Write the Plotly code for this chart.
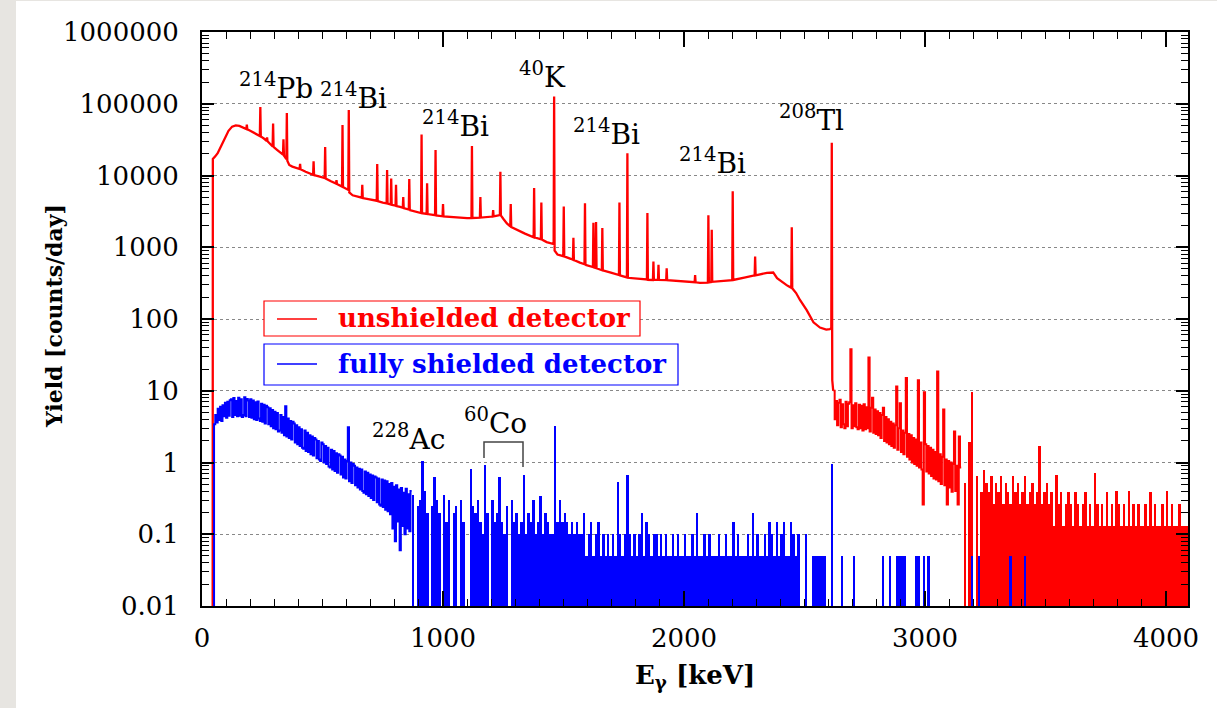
import plotly.graph_objects as go

# ---------------- data ----------------
# Unshielded detector, smooth part with peaks: energy [keV] and yield [counts/day]
RED_E = [44, 45, 55, 65, 80, 95, 110, 125, 140, 155, 170, 184, 186, 188, 200, 215, 230, 240, 242, 244,
         258, 268, 270, 272, 285, 293, 295, 297, 310, 325, 336, 338, 340, 350, 352, 354, 362, 375, 390, 405,
         407, 409, 430, 450, 461, 463, 465, 485, 509, 511, 513, 535, 556, 558, 560, 581, 583, 585, 600, 607,
         609, 611, 625, 650, 663, 665, 667, 690, 725, 727, 729, 750, 766, 768, 770, 783, 785, 787, 803, 805,
         807, 822, 833, 835, 837, 858, 860, 862, 885, 909, 911, 913, 932, 934, 936, 967, 969, 971, 998, 1000,
         1002, 1050, 1100, 1118, 1120, 1122, 1153, 1155, 1157, 1206, 1208, 1210, 1236, 1238, 1240, 1250, 1265, 1279, 1281, 1283,
         1310, 1340, 1376, 1378, 1380, 1406, 1408, 1410, 1430, 1450, 1459, 1461, 1463, 1475, 1499, 1501, 1503, 1530, 1539, 1541,
         1543, 1568, 1587, 1589, 1591, 1622, 1624, 1626, 1633, 1635, 1637, 1651, 1659, 1661, 1663, 1700, 1730, 1732, 1734, 1763,
         1765, 1767, 1800, 1846, 1848, 1850, 1871, 1873, 1875, 1892, 1894, 1896, 1926, 1928, 1930, 2000, 2044, 2046, 2048, 2066,
         2099, 2101, 2103, 2113, 2115, 2117, 2150, 2200, 2202, 2204, 2250, 2293, 2295, 2297, 2344, 2370, 2386, 2410, 2430, 2445,
         2447, 2449, 2465, 2481, 2509, 2537, 2564, 2590, 2605, 2611, 2613, 2615, 2619]
RED_Y = [0, 17000, 18500, 20500, 26000, 34000, 42000, 48000, 50000, 49000, 46500, 44500, 51000, 44000, 42000, 39500, 37000, 35500, 90000, 35000,
         32500, 30500, 34000, 30000, 27000, 25500, 53000, 25000, 23000, 21000, 19500, 32000, 19000, 17000, 74000, 16000, 14000, 13300, 12800, 12300,
         14500, 12200, 11300, 10600, 10200, 15800, 10100, 9700, 9200, 25000, 9100, 8300, 7700, 8600, 7600, 7000, 50600, 6900, 6500, 6300,
         82000, 5800, 5300, 5050, 4900, 7400, 4850, 4700, 4450, 14500, 4400, 4200, 4100, 11900, 4050, 3950, 9100, 3900, 3800, 7400,
         3750, 3650, 3550, 5000, 3500, 3350, 8900, 3300, 3150, 3000, 37400, 2980, 2920, 7800, 2900, 2800, 22700, 2780, 2700, 4000,
         2690, 2600, 2550, 2560, 25800, 2560, 2580, 5000, 2590, 2680, 3300, 2690, 2800, 11300, 2780, 2500, 2150, 1950, 4000, 1920,
         1720, 1550, 1380, 6700, 1370, 1290, 4200, 1280, 1180, 1130, 1110, 126000, 900, 790, 750, 3700, 745, 690, 670, 1350,
         665, 610, 580, 4100, 570, 530, 2200, 525, 515, 2250, 510, 490, 480, 1850, 475, 440, 410, 4200, 405, 380,
         20400, 375, 365, 355, 3000, 352, 350, 630, 350, 350, 570, 350, 348, 510, 347, 335, 325, 410, 325, 318,
         322, 2800, 324, 328, 1750, 330, 338, 348, 6050, 350, 378, 405, 740, 407, 440, 445, 370, 320, 290, 272,
         1900, 268, 230, 184, 133, 90, 76, 71, 72, 75, 28600, 14, 10]

# Unshielded detector, high-energy tail (5 keV bins starting at 2620 keV)
RED_TAIL_START, RED_TAIL_BIN = 2620, 5
RED_TAIL_Y = [10,
              4.0, 7.2, 3.3, 6.8, 7.5, 3.1, 6.5, 3.4, 3.0, 7.0,
              3.2, 6.6, 6.9, 38, 3.0, 6.3, 3.2, 6.7, 3.1, 2.9,
              6.4, 3.0, 6.2, 2.8, 6.5, 2.9, 5.9, 3.0, 29, 2.7,
              5.8, 8.0, 2.6, 5.5, 2.5, 5.2, 2.4, 4.9, 2.2, 4.6,
              5.8, 2.0, 4.3, 1.9, 4.0, 1.8, 3.7, 1.7, 3.5, 1.6,
              3.3, 11.5, 1.5, 3.0, 6.7, 1.4, 2.8, 1.3, 2.6, 15,
              1.2, 2.5, 1.1, 2.4, 1.0, 2.2, 0.95, 2.1, 0.9, 14,
              0.85, 1.9, 0.8, 0.26, 9.5, 1.8, 0.75, 1.7, 0.7, 1.6,
              0.65, 1.5, 0.6, 1.4, 0.58, 18.5, 0.55, 1.3, 0.5, 1.2,
              5.5, 0.48, 1.1, 0.26, 1.05, 0.45, 1.0, 0.39, 0.95, 2.7,
              0.4, 0.9, 0.26, 2.3, 0.85]

# Unshielded detector, low-count region (10 keV bins starting at 3150 keV)
RED_LOW_START, RED_LOW_BIN = 3150, 10
RED_LOW_Y = [0.0, 0.52, 0.0, 1.95, 9.5, 0.0, 0.65, 0.0, 0.39, 0.78,
             0.52, 0.39, 0.65, 0.26, 0.52, 0.39, 0.65, 0.26, 0.52, 0.39,
             0.26, 0.65, 0.39, 0.52, 0.26, 0.39, 0.65, 0.26, 0.39, 0.52,
             0.26, 0.39, 1.7, 0.26, 0.39, 0.52, 0.26, 0.39, 0.13, 0.66,
             0.26, 0.39, 0.13, 0.26, 0.39, 0.26, 0.13, 0.39, 0.26, 0.13,
             0.26, 0.39, 0.13, 0.26, 0.13, 0.72, 0.26, 0.13, 0.26, 0.13,
             0.39, 0.13, 0.26, 0.13, 0.4, 0.26, 0.13, 0.26, 0.13, 0.4,
             0.13, 0.26, 0.13, 0.26, 0.13, 0.13, 0.26, 0.13, 0.39, 0.13,
             0.26, 0.13, 0.13, 0.26, 0.13, 0.4, 0.13, 0.26, 0.13, 0.13,
             0.26, 0.13, 0.13, 0.13]

# Fully shielded detector, continuum (5 keV bins starting at 45 keV)
BLUE_START, BLUE_BIN = 45, 5
BLUE_Y = [0,
          3.4, 4.6, 3.6, 5.6, 3.9, 6.0, 3.8, 6.3, 4.4, 6.8,
          4.2, 7.0, 4.5, 7.4, 7.6, 4.3, 7.9, 4.6, 7.2, 4.4,
          8.0, 4.5, 7.6, 4.3, 4.6, 8.1, 4.4, 7.7, 7.3, 4.3,
          7.6, 4.2, 7.3, 4.0, 6.9, 3.9, 7.1, 4.1, 3.8, 6.6,
          3.7, 6.4, 3.5, 6.2, 5.9, 3.4, 5.7, 3.2, 5.4, 3.0,
          5.1, 2.9, 4.9, 2.7, 2.8, 4.6, 2.6, 4.3, 2.4, 6.1,
          2.3, 4.1, 2.2, 3.8, 2.1, 3.7, 3.5, 1.9, 3.3, 1.8,
          3.1, 1.7, 2.9, 1.6, 1.55, 2.8, 1.45, 2.6, 1.4, 2.4,
          1.3, 2.3, 1.25, 2.2, 2.1, 1.15, 2.0, 1.1, 1.05, 1.9,
          1.8, 1.0, 1.7, 0.95, 1.6, 0.88, 0.85, 1.5, 0.8, 1.45,
          0.76, 1.35, 0.72, 1.3, 1.25, 0.68, 1.2, 0.62, 1.1, 0.6,
          1.05, 3.1, 0.55, 1.0, 0.52, 0.95, 0.9, 0.48, 0.85, 0.45,
          0.82, 0.42, 0.8, 0.4, 0.38, 0.75, 0.36, 0.72, 0.34, 0.68,
          0.32, 0.66, 0.3, 0.64, 0.62, 0.28, 0.6, 0.26, 0.25, 0.58,
          0.24, 0.56, 0.22, 0.55, 0.21, 0.5, 0.19, 0.52, 0.12, 0.46,
          0.08, 0.48, 0.15, 0.42, 0.06, 0.44, 0.13, 0.38, 0.1, 0.43,
          0.12, 0.36, 0.11, 0.4]

# Fully shielded detector, low-count region (10 keV bins starting at 870 keV)
BLUE_LOW_START, BLUE_LOW_BIN = 870, 10
BLUE_LOW_Y = [0.35, 0.0, 0.25, 0.3, 1.05, 0.4, 0.2, 0.0, 0.25, 0.62,
              0.3, 0.2, 0.0, 0.35, 0.15, 0.3, 0.0, 0.2, 0.25, 0.0,
              0.3, 0.15, 0.0, 0.0, 0.82, 0.25, 0.2, 0.3, 0.15, 0.1,
              0.91, 0.2, 0.0, 0.3, 0.15, 0.2, 0.62, 0.15, 0.1, 0.25,
              0.0, 0.3, 0.15, 0.2, 0.1, 0.15, 0.68, 0.1, 0.2, 0.15,
              0.3, 0.1, 0.15, 0.34, 0.1, 0.2, 0.15, 0.1, 0.1, 3.2,
              0.15, 0.3, 0.15, 0.2, 0.15, 0.1, 0.15, 0.1, 0.15, 0.1,
              0.1, 0.2, 0.05, 0.1, 0.15, 0.05, 0.1, 0.15, 0.05, 0.1,
              0.05, 0.1, 0.05, 0.1, 0.05, 0.54, 0.1, 0.05, 0.1, 0.68,
              0.1, 0.05, 0.1, 0.05, 0.1, 0.2, 0.05, 0.15, 0.1, 0.05,
              0.1, 0.1, 0.05, 0.1, 0.05, 0.1, 0.05, 0.05, 0.1, 0.05,
              0.1, 0.05, 0.05, 0.1, 0.05, 0.05, 0.1, 0.05, 0.2, 0.05,
              0.05, 0.1, 0.05, 0.1, 0.05, 0.05, 0.05, 0.1, 0.05, 0.05,
              0.1, 0.05, 0.05, 0.15, 0.05, 0.1, 0.05, 0.05, 0.05, 0.1,
              0.05, 0.2, 0.05, 0.1, 0.05, 0.05, 0.1, 0.05, 0.15, 0.1,
              0.05, 0.15, 0.05, 0.1, 0.15, 0.05, 0.05, 0.15, 0.1, 0.05,
              0.1, 0.0, 0.0, 0.1, 0.0, 0.0, 0.05, 0.05, 0.05, 0.05,
              0.05, 0.05, 0.0, 0.0, 0.94, 0.0, 0.0, 0.0, 0.05, 0.0,
              0.0, 0.0, 0.0, 0.05, 0.0, 0.0, 0.0, 0.0, 0.0, 0.0,
              0.0, 0.0, 0.0, 0.0, 0.0, 0.05, 0.0, 0.0, 0.05, 0.0,
              0.0, 0.05, 0.05, 0.05, 0.05, 0.0, 0.0, 0.0, 0.0, 0.05,
              0.05, 0.0, 0.05, 0.0, 0.05, 0.0, 0.0, 0.0, 0.0, 0.0,
              0.0, 0.0, 0.0, 0.0, 0.0, 0.0, 0.0, 0.0, 0.0, 0.0,
              0.0, 0.0, 0.05, 0.0, 0.0, 0.05, 0.0, 0.0, 0.0, 0.0,
              0.0, 0.0, 0.0, 0.0, 0.0, 0.0, 0.0, 0.0, 0.05, 0.0,
              0.0, 0.0, 0.0, 0.0, 0.05]

Y_TICKS = [0.01, 0.1, 1, 10, 100, 1000, 10000, 100000, 1000000]
Y_TICK_TEXT = ["0.01", "0.1", "1", "10", "100", "1000", "10000", "100000", "1000000"]

PEAK_LABELS = ["<sup>214</sup>Pb", "<sup>214</sup>Bi", "<sup>214</sup>Bi", "<sup>40</sup>K", "<sup>214</sup>Bi",
               "<sup>214</sup>Bi", "<sup>208</sup>Tl", "<sup>228</sup>Ac", "<sup>60</sup>Co"]
LEGEND_NAMES = ["unshielded detector", "fully shielded detector"]

RED = "#ff0000"
BLUE = "#0000ff"
INK = "#000000"

# ---------------- geometry helpers ----------------
W, H = 1217, 708
L, R, T, B = 202, 29, 32, 102
PW, PH = W - L - R, H - T - B


def fx(px):
    return (px - L) / PW


def fy(py):
    return (H - B - py) / PH


def floor0(v):
    # zero counts fall below the axis floor
    return v if v > 0 else 1e-4


def edges(start, step, n):
    return [start + step * i for i in range(n)]


fig = go.Figure()

# red low-count region as histogram bars
rl_e = edges(RED_LOW_START, RED_LOW_BIN, len(RED_LOW_Y))
fig.add_trace(go.Bar(x=[e + RED_LOW_BIN / 2 for e, v in zip(rl_e, RED_LOW_Y) if v > 0],
                     y=[v for v in RED_LOW_Y if v > 0], width=RED_LOW_BIN,
                     marker=dict(color=RED, line=dict(width=0)), name=LEGEND_NAMES[0]))
# red smooth part
fig.add_trace(go.Scatter(x=RED_E, y=[floor0(v) for v in RED_Y], mode="lines",
                         line=dict(color=RED, width=2.3), name=LEGEND_NAMES[0]))
# red tail
rt_e = edges(RED_TAIL_START, RED_TAIL_BIN, len(RED_TAIL_Y))
fig.add_trace(go.Scatter(x=rt_e + [RED_LOW_START], y=[floor0(v) for v in RED_TAIL_Y] + [RED_TAIL_Y[-1]],
                         mode="lines", line=dict(color=RED, width=2.0, shape="hv"), name=LEGEND_NAMES[0]))
# blue continuum
b_e = edges(BLUE_START, BLUE_BIN, len(BLUE_Y))
fig.add_trace(go.Scatter(x=b_e + [BLUE_LOW_START], y=[floor0(v) for v in BLUE_Y] + [BLUE_Y[-1]],
                         mode="lines", line=dict(color=BLUE, width=2.0, shape="hv"), name=LEGEND_NAMES[1]))
# blue low-count region as histogram bars
bl_e = edges(BLUE_LOW_START, BLUE_LOW_BIN, len(BLUE_LOW_Y))
fig.add_trace(go.Bar(x=[e + BLUE_LOW_BIN / 2 for e, v in zip(bl_e, BLUE_LOW_Y) if v > 0],
                     y=[v for v in BLUE_LOW_Y if v > 0], width=BLUE_LOW_BIN,
                     marker=dict(color=BLUE, line=dict(width=0)), name=LEGEND_NAMES[1]))

FONT = "DejaVu Serif"
fig.update_layout(
    width=W, height=H, margin=dict(l=L, r=R, t=T, b=B),
    paper_bgcolor="#e7e5e1", plot_bgcolor="white",
    showlegend=False, barmode="overlay", bargap=0,
    font=dict(family=FONT, color=INK),
)
fig.update_xaxes(
    range=[0, 4091], tick0=0, dtick=1000,
    ticks="inside", ticklen=15, tickwidth=1.5, tickcolor="black",
    minor=dict(dtick=100, tick0=0, ticks="inside", ticklen=7, tickwidth=1.2, tickcolor="black", showgrid=False),
    showline=True, linewidth=2, linecolor="black", mirror="ticks",
    showgrid=False, zeroline=False, tickfont=dict(size=26, family=FONT, color=INK),
    ticklabelstandoff=8,
)
fig.update_yaxes(
    type="log", range=[-2, 6], tickmode="array", tickvals=Y_TICKS, ticktext=Y_TICK_TEXT,
    ticks="inside", ticklen=12, tickwidth=1.5, tickcolor="black",
    minor=dict(tickmode="array", tickvals=[m * 10 ** k for k in range(-2, 6) for m in range(2, 10)],
               ticks="inside", ticklen=7, tickwidth=1.2, tickcolor="black", showgrid=False),
    showline=True, linewidth=2, linecolor="black", mirror="ticks",
    showgrid=True, gridcolor="#888888", griddash="dot", gridwidth=1,
    zeroline=False, tickfont=dict(size=26, family=FONT, color=INK),
    ticklabelstandoff=16,
)

shapes = [
    # white sheet over the grey page
    dict(type="rect", xref="paper", yref="paper", x0=fx(16), x1=fx(1230), y0=fy(1), y1=fy(720),
         fillcolor="white", line=dict(width=0), layer="below"),
    # legend boxes
    dict(type="rect", xref="paper", yref="paper", x0=fx(264), x1=fx(640), y0=fy(301), y1=fy(336),
         fillcolor="white", line=dict(color=RED, width=1.2), layer="above"),
    dict(type="rect", xref="paper", yref="paper", x0=fx(264), x1=fx(678), y0=fy(344), y1=fy(385),
         fillcolor="white", line=dict(color=BLUE, width=1.2), layer="above"),
    dict(type="line", xref="paper", yref="paper", x0=fx(277), x1=fx(317), y0=fy(319), y1=fy(319),
         line=dict(color=RED, width=1.5), layer="above"),
    dict(type="line", xref="paper", yref="paper", x0=fx(277), x1=fx(317), y0=fy(364), y1=fy(364),
         line=dict(color=BLUE, width=1.5), layer="above"),
    # 60Co bracket
    dict(type="path", xref="paper", yref="paper",
         path="M %f,%f L %f,%f L %f,%f L %f,%f" % (fx(484), fy(458), fx(484), fy(442), fx(523), fy(442), fx(523), fy(467)),
         line=dict(color="#444444", width=1.5), layer="above"),
]
fig.update_layout(shapes=shapes)

annotations = []
# peak labels: (center x px, middle y px)
label_pos = [(276, 86), (353, 97), (455, 124), (542, 75), (606, 132), (712, 161), (811, 119), (408, 437), (495, 421)]
for txt, (px, py) in zip(PEAK_LABELS, label_pos):
    annotations.append(dict(text=txt, x=fx(px), y=fy(py), xref="paper", yref="paper",
                            xanchor="center", yanchor="middle", showarrow=False,
                            font=dict(size=28, family=FONT, color=INK)))
annotations.append(dict(text="<b>%s</b>" % LEGEND_NAMES[0], x=fx(336), y=fy(318), xref="paper", yref="paper",
                        xanchor="left", yanchor="middle", showarrow=False,
                        font=dict(size=26, family=FONT, color=RED)))
annotations.append(dict(text="<b>%s</b>" % LEGEND_NAMES[1], x=fx(336), y=fy(364), xref="paper", yref="paper",
                        xanchor="left", yanchor="middle", showarrow=False,
                        font=dict(size=26, family=FONT, color=BLUE)))
annotations.append(dict(text="<b>Yield [counts/day]</b>", x=fx(54), y=fy(316), xref="paper", yref="paper",
                        xanchor="center", yanchor="middle", textangle=-90, showarrow=False,
                        font=dict(size=22, family=FONT, color=INK)))
annotations.append(dict(text="<b>E<sub>γ</sub> [keV]</b>", x=fx(695), y=fy(676), xref="paper", yref="paper",
                        xanchor="center", yanchor="middle", showarrow=False,
                        font=dict(size=26, family=FONT, color=INK)))
fig.update_layout(annotations=annotations)

fig.write_html("out.html")
